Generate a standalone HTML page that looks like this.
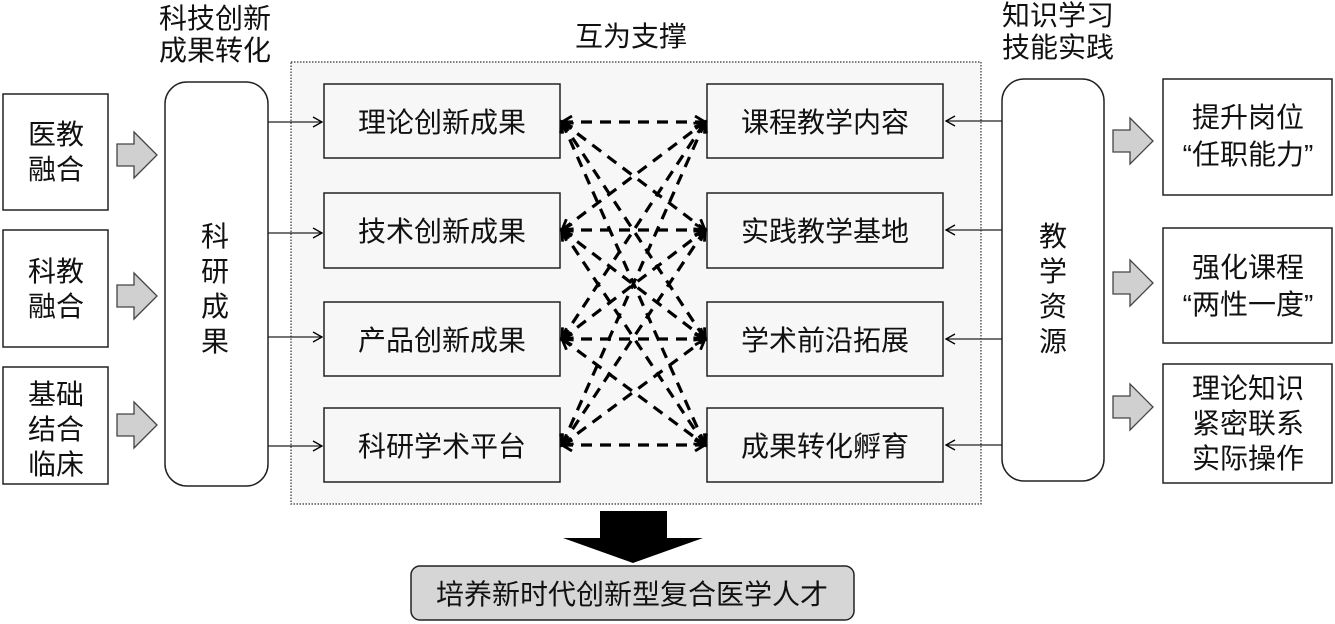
<!DOCTYPE html>
<html><head><meta charset="utf-8"><style>
html,body{margin:0;padding:0;background:#fff;}
svg{display:block;}
text{font-family:"Liberation Sans","Noto Sans CJK SC",sans-serif;fill:#111;}
</style></head><body>
<svg width="1335" height="624" viewBox="0 0 1335 624" xmlns="http://www.w3.org/2000/svg">
<defs>
<marker id="a" markerWidth="14" markerHeight="14" refX="11" refY="7" orient="auto-start-reverse" markerUnits="userSpaceOnUse">
<path d="M1,1 L11,7 L1,13" fill="none" stroke="#000" stroke-width="2.8"/>
</marker>
<marker id="t" markerWidth="12" markerHeight="12" refX="10" refY="6" orient="auto" markerUnits="userSpaceOnUse">
<path d="M1,1 L10,6 L1,11" fill="none" stroke="#000" stroke-width="1.3"/>
</marker>
</defs>
<g font-size="28" text-anchor="middle">
<text x="215" y="28">科技创新</text>
<text x="215" y="60">成果转化</text>
<text x="631" y="46">互为支撑</text>
<text x="1058" y="25">知识学习</text>
<text x="1058" y="57">技能实践</text>
</g>

<rect x="291" y="62" width="690" height="442" fill="#f7f7f7" stroke="#333" stroke-width="1.2" stroke-dasharray="1.5,1.5"/>

<g fill="#fff" stroke="#222" stroke-width="1.5">
<rect x="3" y="94" width="105" height="116"/>
<rect x="3" y="230" width="105" height="117"/>
<rect x="3" y="367" width="105" height="117"/>
<rect x="165" y="82" width="103" height="404" rx="22"/>
<rect x="1002" y="79" width="102" height="402" rx="22"/>
<rect x="1163" y="79" width="169" height="116"/>
<rect x="1163" y="228" width="169" height="115"/>
<rect x="1163" y="364" width="169" height="119"/>
</g>
<g font-size="28" text-anchor="middle">
<text x="56" y="144">医教</text><text x="56" y="179">融合</text>
<text x="56" y="281">科教</text><text x="56" y="316">融合</text>
<text x="56" y="404">基础</text><text x="56" y="439">结合</text><text x="56" y="474">临床</text>
<text x="215" y="246">科</text><text x="215" y="281">研</text><text x="215" y="316">成</text><text x="215" y="351">果</text>
<text x="1053" y="246">教</text><text x="1053" y="281">学</text><text x="1053" y="316">资</text><text x="1053" y="351">源</text>
<text x="1248" y="127">提升岗位</text><text x="1248" y="164">“任职能力”</text>
<text x="1248" y="277">强化课程</text><text x="1248" y="314">“两性一度”</text>
<text x="1248" y="398">理论知识</text><text x="1248" y="433">紧密联系</text><text x="1248" y="468">实际操作</text>
</g>
<g fill="#d0d0d0" stroke="#444" stroke-width="1.3">
<path d="M117,144 h17 v-12 l23,23 l-23,23 v-12 h-17 z"/>
<path d="M117,285 h17 v-12 l23,23 l-23,23 v-12 h-17 z"/>
<path d="M117,414 h17 v-12 l23,23 l-23,23 v-12 h-17 z"/>
<path d="M1113,130 h17 v-12 l23,23 l-23,23 v-12 h-17 z"/>
<path d="M1113,272 h17 v-12 l23,23 l-23,23 v-12 h-17 z"/>
<path d="M1113,396 h17 v-12 l23,23 l-23,23 v-12 h-17 z"/>
</g>
<g stroke="#222" stroke-width="1.3" fill="none">
<line x1="268" y1="122" x2="322" y2="122" marker-end="url(#t)"/>
<line x1="268" y1="233" x2="322" y2="233" marker-end="url(#t)"/>
<line x1="268" y1="337" x2="322" y2="337" marker-end="url(#t)"/>
<line x1="268" y1="446" x2="322" y2="446" marker-end="url(#t)"/>
<line x1="1002" y1="121" x2="946" y2="121" marker-end="url(#t)"/>
<line x1="1002" y1="230" x2="946" y2="230" marker-end="url(#t)"/>
<line x1="1002" y1="339" x2="946" y2="339" marker-end="url(#t)"/>
<line x1="1002" y1="445" x2="946" y2="445" marker-end="url(#t)"/>
</g>
<g fill="#f7f7f7" stroke="#222" stroke-width="1.5">
<rect x="324" y="84" width="236" height="74"/>
<rect x="324" y="193" width="236" height="75"/>
<rect x="324" y="302" width="236" height="74"/>
<rect x="324" y="408" width="236" height="74"/>
<rect x="707" y="84" width="236" height="74"/>
<rect x="707" y="193" width="236" height="75"/>
<rect x="707" y="302" width="236" height="74"/>
<rect x="707" y="408" width="236" height="74"/>
</g>
<g font-size="28" text-anchor="middle">
<text x="442" y="132">理论创新成果</text>
<text x="442" y="241">技术创新成果</text>
<text x="442" y="350">产品创新成果</text>
<text x="442" y="456">科研学术平台</text>
<text x="825" y="132">课程教学内容</text>
<text x="825" y="241">实践教学基地</text>
<text x="825" y="350">学术前沿拓展</text>
<text x="825" y="456">成果转化孵育</text>
</g>
<g stroke="#000" stroke-width="3.2" stroke-dasharray="11,8" fill="none" marker-start="url(#a)" marker-end="url(#a)">
<line x1="562" y1="122" x2="705" y2="122"/>
<line x1="562" y1="122" x2="705" y2="230"/>
<line x1="562" y1="122" x2="705" y2="339"/>
<line x1="562" y1="122" x2="705" y2="445"/>
<line x1="562" y1="230" x2="705" y2="122"/>
<line x1="562" y1="230" x2="705" y2="230"/>
<line x1="562" y1="230" x2="705" y2="339"/>
<line x1="562" y1="230" x2="705" y2="445"/>
<line x1="562" y1="339" x2="705" y2="122"/>
<line x1="562" y1="339" x2="705" y2="230"/>
<line x1="562" y1="339" x2="705" y2="339"/>
<line x1="562" y1="339" x2="705" y2="445"/>
<line x1="562" y1="445" x2="705" y2="122"/>
<line x1="562" y1="445" x2="705" y2="230"/>
<line x1="562" y1="445" x2="705" y2="339"/>
<line x1="562" y1="445" x2="705" y2="445"/>
</g>
<path d="M600,511 h67 v27 h36 l-70,25 l-70,-25 h37 z" fill="#000"/>
<rect x="411" y="566" width="443" height="54" rx="9" fill="#d6d6d6" stroke="#222" stroke-width="1.5"/>
<text x="632" y="604" font-size="28" text-anchor="middle">培养新时代创新型复合医学人才</text>
</svg>
</body></html>
